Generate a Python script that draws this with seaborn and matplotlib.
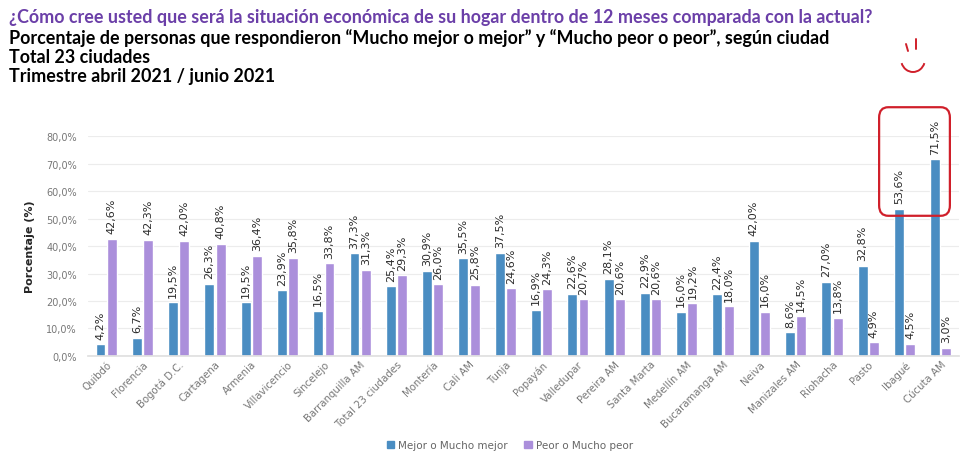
import pandas as pd
import seaborn as sns
import matplotlib.pyplot as plt
from matplotlib.patches import FancyBboxPatch, Arc, Patch

cities = ["Quibdó", "Florencia", "Bogotá D.C.", "Cartagena", "Armenia",
          "Villavicencio", "Sincelejo", "Barranquilla AM", "Total 23 ciudades",
          "Montería", "Cali AM", "Tunja", "Popayán", "Valledupar", "Pereira AM",
          "Santa Marta", "Medellín AM", "Bucaramanga AM", "Neiva", "Manizales AM",
          "Riohacha", "Pasto", "Ibagué", "Cúcuta AM"]
mejor = [4.2, 6.7, 19.5, 26.3, 19.5, 23.9, 16.5, 37.3, 25.4, 30.9, 35.5, 37.5,
         16.9, 22.6, 28.1, 22.9, 16.0, 22.4, 42.0, 8.6, 27.0, 32.8, 53.6, 71.5]
peor = [42.6, 42.3, 42.0, 40.8, 36.4, 35.8, 33.8, 31.3, 29.3, 26.0, 25.8, 24.6,
        24.3, 20.7, 20.6, 20.6, 19.2, 18.0, 16.0, 14.5, 13.8, 4.9, 4.5, 3.0]
series = ["Mejor o Mucho mejor", "Peor o Mucho peor"]
colors = ["#4a8dc2", "#ab8fdb"]

df = pd.DataFrame({
    "Ciudad": cities * 2,
    "Serie": [series[0]] * len(cities) + [series[1]] * len(cities),
    "Valor": mejor + peor,
})

sns.set_theme(style="white")
plt.rcParams["font.family"] = ["DejaVu Sans"]
title_font = ["Lato", "DejaVu Sans"]

fig = plt.figure(figsize=(9.71, 4.6), dpi=100)
ax = fig.add_axes([0.0906, 0.224, 0.897, 0.478])

sns.barplot(data=df, x="Ciudad", y="Valor", hue="Serie", palette=colors,
            width=0.62, gap=0.12, saturation=1, ax=ax, legend=False)

for cont in ax.containers:
    labels = [f"{b.get_height():.1f}%".replace(".", ",") for b in cont]
    ax.bar_label(cont, labels=labels, rotation=90, padding=4, fontsize=8,
                 color="#2b2b2b", clip_on=False)

ax.set_ylim(0, 80)
ax.set_xlim(-0.5, len(cities) - 0.5)
ax.set_yticks(range(0, 81, 10))
ax.set_yticklabels([f"{v},0%" for v in range(0, 81, 10)], fontsize=7, color="#777777")
ax.yaxis.grid(True, color="#ececec", linewidth=0.8)
ax.set_axisbelow(True)
ax.tick_params(axis="x", length=0, pad=2)
ax.tick_params(axis="y", length=0, pad=8)
ax.set_xticks(range(len(cities)))
ax.set_xticklabels(cities, rotation=45, ha="right", rotation_mode="anchor",
                   fontsize=7.3, color="#777777")
for s in ["top", "right", "left"]:
    ax.spines[s].set_visible(False)
ax.spines["bottom"].set_color("#e0e0e0")
ax.set_xlabel("")
ax.set_ylabel("Porcentaje (%)", fontsize=8, fontweight="bold", labelpad=8)

# red hand-drawn box around Ibagué and Cúcuta AM
ax.add_patch(FancyBboxPatch((21.3, 51), 1.95, 39.5, boxstyle="round,pad=0,rounding_size=0.25",
                            fill=False, edgecolor="#d01f2a", linewidth=1.6, clip_on=False,
                            mutation_aspect=15))

handles = [Patch(color=c, label=s) for c, s in zip(colors, series)]
fig.legend(handles=handles, loc="center", bbox_to_anchor=(0.525, 0.03), ncol=2,
           frameon=False, fontsize=7.5, handlelength=0.7, handleheight=0.7,
           handletextpad=0.4, columnspacing=1.6, labelcolor="#666666")

title_kw = dict(fontsize=12.9, fontweight="bold", va="center", family=title_font)
fig.text(0.009, 0.961, "¿Cómo cree usted que será la situación económica de su hogar dentro de 12 meses comparada con la actual?",
         color="#6b3fa8", **title_kw)
fig.text(0.009, 0.918, "Porcentaje de personas que respondieron “Mucho mejor o mejor” y “Mucho peor o peor”, según ciudad",
         color="black", **title_kw)
fig.text(0.009, 0.876, "Total 23 ciudades", color="black", **title_kw)
fig.text(0.009, 0.834, "Trimestre abril 2021 / junio 2021", color="black", **title_kw)

# smiley
deco = fig.add_axes([0, 0, 1, 1], zorder=5)
deco.set_xlim(0, 971)
deco.set_ylim(460, 0)
deco.axis("off")
deco.add_patch(Arc((913, 60), 24, 26, theta1=20, theta2=160, color="#d01f2a", linewidth=1.4))
deco.plot([906, 908], [45, 52], color="#d01f2a", linewidth=1.4)
deco.plot([916, 916], [40, 50], color="#d01f2a", linewidth=1.4)

fig.savefig("out.png", dpi=100)
